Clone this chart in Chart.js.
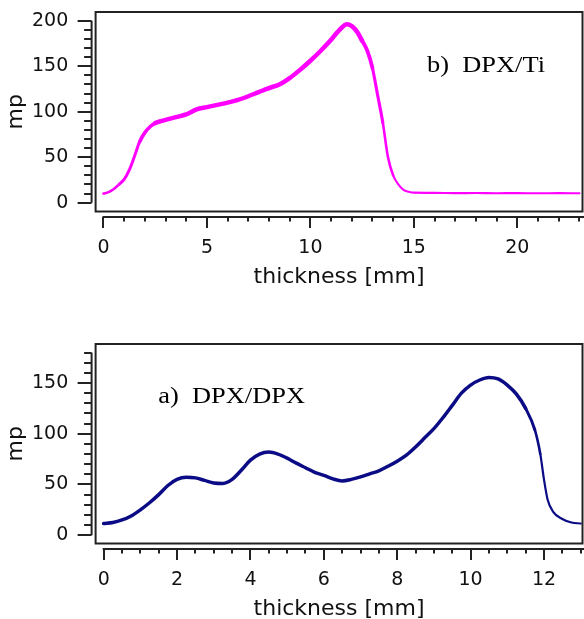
<!DOCTYPE html>
<html><head><meta charset="utf-8">
<script src="https://cdn.jsdelivr.net/npm/chart.js@4.4.1/dist/chart.umd.min.js"></script>
<style>
html,body{margin:0;padding:0;background:#fff;overflow:hidden;width:584px;height:619px;}
#wrap{position:relative;width:584px;height:619px;overflow:hidden;}
canvas{position:absolute;left:0;}
</style></head><body>
<div id="wrap">
<canvas id="top" width="584" height="310" style="top:0px;width:584px;height:310px"></canvas>
<canvas id="bot" width="584" height="310" style="top:332px;width:584px;height:310px"></canvas>
</div>
<script>
// ---- data ----
// b) DPX/Ti (magenta)
const tiThickness = [0,0.25,0.5,0.75,1,1.25,1.5,1.75,2,2.25,2.5,2.75,3,3.5,4,4.5,5,5.5,6,6.5,7,7.5,8,8.5,9,9.5,10,10.5,11,11.25,11.5,11.75,12,12.25,12.5,12.75,13,13.25,13.5,13.75,14,14.25,14.5,14.75,15,16,17,18,19,20,21,22,23];
const tiMp = [10,11.5,15,20,25.5,36,51,67,77,83.5,87.5,89.5,91,94,97,102.5,105,107.5,110,113,117,121.5,126,130,137,146,156,167,179,186,192,196,194,188,178,167,148,118,88,50,30,20,14,12,11,10.8,10.5,10.6,10.4,10.5,10.3,10.5,10.4];
// a) DPX/DPX (navy)
const dpxThickness = [0,0.25,0.5,0.75,1,1.25,1.5,1.75,2,2.25,2.5,2.75,3,3.25,3.5,3.75,4,4.25,4.5,4.75,5,5.25,5.5,5.75,6,6.25,6.5,6.75,7,7.25,7.5,7.75,8,8.25,8.5,8.75,9,9.25,9.5,9.75,10,10.25,10.5,10.75,11,11.25,11.5,11.75,11.9,12,12.1,12.25,12.5,12.75,13];
const dpxMp = [11.5,12.5,15,19,25,32,40,49,55,57,56.5,54,51.5,51,55,64,74,80,82,80,76,71,66.5,62,59,55.5,53.5,55,57.5,60.5,63.5,68,73,79,87,96,105,116,128,140,148,153,155.5,154,148,139,125,104,80,55,35,23,16,12.5,11.5];
// tick labels
const tiXTicks = [0,5,10,15,20];
const tiYTicks = [0,50,100,150,200];
const dpxXTicks = [0,2,4,6,8,10,12];
const dpxYTicks = [0,50,100,150];
const tiLabel = 'b)  DPX/Ti';
const dpxLabel = 'a)  DPX/DPX';
const xTitle = 'thickness [mm]';
const yTitle = 'mp';

const AX = '#222';
const TXT = '#111';
const detachedAxes = {
  id: 'detachedAxes',
  afterDraw(chart, args, o) {
    const {ctx, chartArea: a, scales: {x, y}} = chart;
    ctx.save();
    ctx.strokeStyle = AX;
    ctx.lineWidth = 2;
    ctx.strokeRect(a.left, a.top, a.right - a.left, a.bottom - a.top);
    // y axis (detached)
    const ax = a.left - 4;
    ctx.beginPath();
    ctx.moveTo(ax, y.getPixelForValue(0));
    ctx.lineTo(ax, y.getPixelForValue(o.yEnd));
    ctx.stroke();
    const yMaj = o.yTicks[1] - o.yTicks[0];
    for (let i = 0; i * o.yMinor <= o.yEnd + 1e-9; i++) {
      const v = i * o.yMinor;
      const py = Math.round(y.getPixelForValue(v));
      const major = Math.abs(v / yMaj - Math.round(v / yMaj)) < 1e-6;
      ctx.beginPath();
      ctx.moveTo(ax, py);
      ctx.lineTo(ax - (major ? 14 : 7.5), py);
      ctx.stroke();
    }
    // x axis (detached)
    const ay = a.bottom + 5.5;
    ctx.beginPath();
    ctx.moveTo(x.getPixelForValue(0) - 1, ay);
    ctx.lineTo(chart.width, ay);
    ctx.stroke();
    const xMaj = o.xTicks[1] - o.xTicks[0];
    for (let i = 0; i * o.xMinor <= x.max + 1e-9; i++) {
      const v = i * o.xMinor;
      const px = Math.round(x.getPixelForValue(v));
      const major = Math.abs(v / xMaj - Math.round(v / xMaj)) < 1e-6;
      ctx.beginPath();
      ctx.moveTo(px, ay);
      ctx.lineTo(px, ay + (major ? 11 : 4.5));
      ctx.stroke();
    }
    // panel label
    ctx.font = '24px "Liberation Serif", "Times New Roman", serif';
    ctx.fillStyle = '#000';
    ctx.textBaseline = 'alphabetic';
    ctx.textAlign = 'left';
    ctx.translate(x.getPixelForValue(o.labelAt[0]), y.getPixelForValue(o.labelAt[1]));
    ctx.scale(1.1, 1);
    ctx.fillText(o.text, 0, 0);
    ctx.restore();
  }
};

function makeChart(id, xs, ys, color, widthFn, xTicks, yTicks, xr, yr, axOpts) {
  return new Chart(document.getElementById(id), {
    type: 'line',
    data: { datasets: [{
      data: xs.map((v, i) => ({x: v, y: ys[i]})),
      borderColor: color, borderWidth: 3, pointRadius: 0, fill: false,
      cubicInterpolationMode: 'monotone',
      borderJoinStyle: 'round', borderCapStyle: 'round',
      segment: { borderWidth: widthFn }
    }]},
    options: {
      responsive: false, animation: false, events: [],
      layout: { padding: { left: 0, top: 12, right: 1.5, bottom: 0 } },
      plugins: { legend: {display: false}, tooltip: {enabled: false}, detachedAxes: axOpts },
      scales: {
        x: {
          type: 'linear', min: xr[0], max: xr[1],
          grid: {display: false, drawTicks: false}, border: {display: false},
          afterBuildTicks: s => { s.ticks = xTicks.map(v => ({value: v})); },
          afterFit: s => { s.height = 98.5; s.paddingLeft = 0; s.paddingRight = 0; },
          ticks: { padding: 24.8, color: TXT, autoSkip: false, maxRotation: 0,
                   font: {family: '"DejaVu Sans"', size: 19} },
          title: { display: true, text: xTitle, color: TXT,
                   font: {family: '"DejaVu Sans"', size: 22}, padding: {top: 0, bottom: 19.4} }
        },
        y: {
          type: 'linear', min: yr[0], max: yr[1],
          grid: {display: false, drawTicks: false}, border: {display: false},
          afterBuildTicks: s => { s.ticks = yTicks.map(v => ({value: v})); },
          afterFit: s => { s.width = 95.6; s.paddingTop = 0; s.paddingBottom = 0; },
          ticks: { padding: 27.3, color: TXT, autoSkip: false,
                   font: {family: '"DejaVu Sans"', size: 19} },
          title: { display: true, text: yTitle, color: TXT,
                   font: {family: '"DejaVu Sans"', size: 22}, padding: {top: 3, bottom: 0} }
        }
      }
    },
    plugins: [detachedAxes]
  });
}

makeChart('top', tiThickness, tiMp, '#ff00ff',
  c => { const x0 = c.p0.parsed.x;
         return x0 < 0.75 ? 2.5 : x0 < 1.75 ? 3 : x0 < 2.5 ? 3.6 : x0 < 12.5 ? 4.5 : x0 < 13 ? 3.8 : x0 < 13.5 ? 3.1 : x0 < 14 ? 2.6 : 2.1; },
  tiXTicks, tiYTicks, [-0.38, 23.15], [-9.7, 209.6],
  { yEnd: 200, yMinor: 10, xMinor: 1, yTicks: tiYTicks, xTicks: tiXTicks, text: tiLabel, labelAt: [15.64, 143.3] });

makeChart('bot', dpxThickness, dpxMp, '#0b0b85',
  c => { const x0 = c.p0.parsed.x; return x0 < 11.5 ? 3.5 : x0 < 11.75 ? 3.0 : x0 < 11.9 ? 2.6 : 2.2; },
  dpxXTicks, dpxYTicks, [-0.22, 13.05], [-8.2, 188.5],
  { yEnd: 180, yMinor: 10, xMinor: 0.5, yTicks: dpxYTicks, xTicks: dpxXTicks, text: dpxLabel, labelAt: [1.49, 130] });
</script>
</body></html>
